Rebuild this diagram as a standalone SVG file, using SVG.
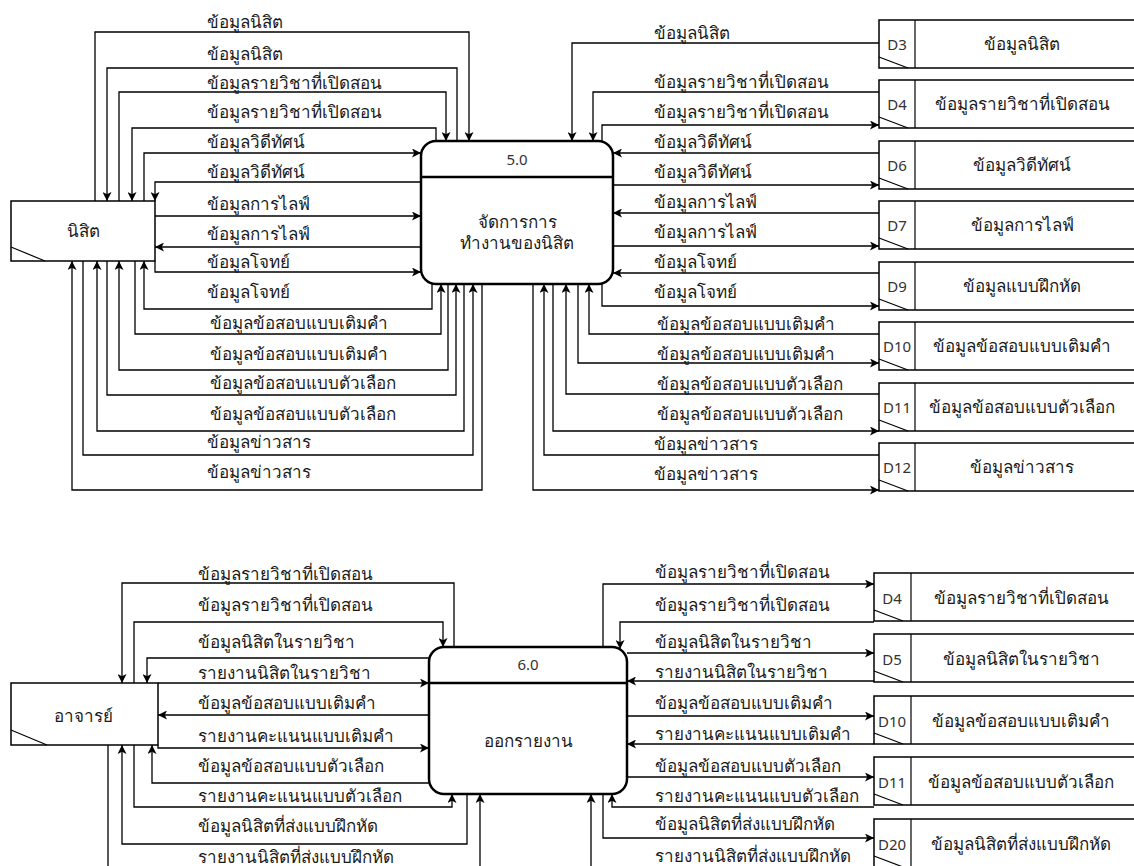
<svg xmlns="http://www.w3.org/2000/svg" width="1134" height="866" viewBox="0 0 1134 866">
<defs>
<marker id="a" viewBox="0 0 10 10" refX="10" refY="5" markerWidth="9" markerHeight="9" markerUnits="userSpaceOnUse" orient="auto"><path d="M0,0 L10,5 L0,10 L2.5,5 z" fill="#000"/></marker>
<style>
.c{fill:none;stroke:#000;stroke-width:1.3;marker-end:url(#a)}
.t{font-family:"Noto Sans","DejaVu Sans",sans-serif;font-size:17px;fill:#1a1a1a}
.l{font-family:"Noto Sans","DejaVu Sans",sans-serif;font-size:15px;fill:#333}
.m{text-anchor:middle}
.p{fill:#fff;stroke:#000;stroke-width:2.5}
.b{fill:#fff;stroke:#000;stroke-width:1.5}
.s{fill:none;stroke:#000;stroke-width:1.2}
</style>
</defs>
<rect width="1134" height="866" fill="#fff"/>

<g id="connectors">
<path class="c" d="M95,201 V32 H469 V141"/>
<path class="c" d="M457,141 V68 H107 V201"/>
<path class="c" d="M119,201 V92 H446 V141"/>
<path class="c" d="M436,141 V128 H132 V201"/>
<path class="c" d="M144,201 V153 H421"/>
<path class="c" d="M421,182 H155 V201"/>
<path class="c" d="M155,216 H421"/>
<path class="c" d="M421,247 H155"/>
<path class="c" d="M155,261 V272 H421"/>
<path class="c" d="M432,284 V309 H144 V261"/>
<path class="c" d="M135,261 V334 H441 V284"/>
<path class="c" d="M448,284 V370 H119 V261"/>
<path class="c" d="M107,261 V395 H456 V284"/>
<path class="c" d="M464,284 V431 H97 V261"/>
<path class="c" d="M83,261 V455 H473 V284"/>
<path class="c" d="M482,284 V490 H72 V261"/>

<path class="c" d="M879,43 H572 V141"/>
<path class="c" d="M879,92 H593 V141"/>
<path class="c" d="M602,141 V125 H879"/>
<path class="c" d="M879,153 H613"/>
<path class="c" d="M613,185 H879"/>
<path class="c" d="M879,213 H613"/>
<path class="c" d="M613,246 H879"/>
<path class="c" d="M879,273 H613"/>
<path class="c" d="M602,284 V306 H879"/>
<path class="c" d="M879,334 H589 V284"/>
<path class="c" d="M578,284 V363 H879"/>
<path class="c" d="M879,394 H566 V284"/>
<path class="c" d="M553,284 V431 H879"/>
<path class="c" d="M879,455 H544 V284"/>
<path class="c" d="M533,284 V490 H879"/>

<path class="c" d="M454,647 V583 H122 V683"/>
<path class="c" d="M134,683 V622 H443 V647"/>
<path class="c" d="M429,658 H147 V683"/>
<path class="c" d="M158,683 H429"/>
<path class="c" d="M429,715 H158"/>
<path class="c" d="M158,745 V748 H429"/>
<path class="c" d="M430,783 H152 V745"/>
<path class="c" d="M134,745 V807 H452 V794"/>
<path class="c" d="M467,794 V844 H122 V745"/>
<path class="c" d="M108,745 V880 H480 V794"/>

<path class="c" d="M603,647 V584 H874"/>
<path class="c" d="M874,622 H620 V649"/>
<path class="c" d="M627,653 H874"/>
<path class="c" d="M874,681 H627"/>
<path class="c" d="M627,716 H874"/>
<path class="c" d="M874,744 H627"/>
<path class="c" d="M627,777 H874"/>
<path class="c" d="M874,807 H612 V794"/>
<path class="c" d="M603,794 V838 H874"/>
<path class="c" d="M874,880 H591 V794"/>
</g>

<g id="labels">
<text class="t" x="207" y="28">ข้อมูลนิสิต</text>
<text class="t" x="207" y="60">ข้อมูลนิสิต</text>
<text class="t" x="207" y="89">ข้อมูลรายวิชาที่เปิดสอน</text>
<text class="t" x="207" y="118">ข้อมูลรายวิชาที่เปิดสอน</text>
<text class="t" x="207" y="148">ข้อมูลวิดีทัศน์</text>
<text class="t" x="207" y="178">ข้อมูลวิดีทัศน์</text>
<text class="t" x="207" y="210">ข้อมูลการไลฟ์</text>
<text class="t" x="207" y="240">ข้อมูลการไลฟ์</text>
<text class="t" x="207" y="268">ข้อมูลโจทย์</text>
<text class="t" x="207" y="298">ข้อมูลโจทย์</text>
<text class="t" x="210" y="329">ข้อมูลข้อสอบแบบเติมคำ</text>
<text class="t" x="210" y="360">ข้อมูลข้อสอบแบบเติมคำ</text>
<text class="t" x="210" y="389">ข้อมูลข้อสอบแบบตัวเลือก</text>
<text class="t" x="210" y="420">ข้อมูลข้อสอบแบบตัวเลือก</text>
<text class="t" x="207" y="448">ข้อมูลข่าวสาร</text>
<text class="t" x="207" y="478">ข้อมูลข่าวสาร</text>

<text class="t" x="654" y="39">ข้อมูลนิสิต</text>
<text class="t" x="654" y="88">ข้อมูลรายวิชาที่เปิดสอน</text>
<text class="t" x="654" y="118">ข้อมูลรายวิชาที่เปิดสอน</text>
<text class="t" x="654" y="148">ข้อมูลวิดีทัศน์</text>
<text class="t" x="654" y="178">ข้อมูลวิดีทัศน์</text>
<text class="t" x="654" y="208">ข้อมูลการไลฟ์</text>
<text class="t" x="654" y="238">ข้อมูลการไลฟ์</text>
<text class="t" x="654" y="268">ข้อมูลโจทย์</text>
<text class="t" x="654" y="298">ข้อมูลโจทย์</text>
<text class="t" x="657" y="330">ข้อมูลข้อสอบแบบเติมคำ</text>
<text class="t" x="657" y="360">ข้อมูลข้อสอบแบบเติมคำ</text>
<text class="t" x="657" y="390">ข้อมูลข้อสอบแบบตัวเลือก</text>
<text class="t" x="657" y="420">ข้อมูลข้อสอบแบบตัวเลือก</text>
<text class="t" x="654" y="450">ข้อมูลข่าวสาร</text>
<text class="t" x="654" y="480">ข้อมูลข่าวสาร</text>

<text class="t" x="198" y="580">ข้อมูลรายวิชาที่เปิดสอน</text>
<text class="t" x="198" y="611">ข้อมูลรายวิชาที่เปิดสอน</text>
<text class="t" x="198" y="648">ข้อมูลนิสิตในรายวิชา</text>
<text class="t" x="198" y="679">รายงานนิสิตในรายวิชา</text>
<text class="t" x="198" y="709">ข้อมูลข้อสอบแบบเติมคำ</text>
<text class="t" x="198" y="742">รายงานคะแนนแบบเติมคำ</text>
<text class="t" x="198" y="772">ข้อมูลข้อสอบแบบตัวเลือก</text>
<text class="t" x="198" y="802">รายงานคะแนนแบบตัวเลือก</text>
<text class="t" x="198" y="832">ข้อมูลนิสิตที่ส่งแบบฝึกหัด</text>
<text class="t" x="198" y="863">รายงานนิสิตที่ส่งแบบฝึกหัด</text>

<text class="t" x="655" y="578">ข้อมูลรายวิชาที่เปิดสอน</text>
<text class="t" x="655" y="611">ข้อมูลรายวิชาที่เปิดสอน</text>
<text class="t" x="655" y="648">ข้อมูลนิสิตในรายวิชา</text>
<text class="t" x="655" y="678">รายงานนิสิตในรายวิชา</text>
<text class="t" x="655" y="709">ข้อมูลข้อสอบแบบเติมคำ</text>
<text class="t" x="655" y="740">รายงานคะแนนแบบเติมคำ</text>
<text class="t" x="655" y="772">ข้อมูลข้อสอบแบบตัวเลือก</text>
<text class="t" x="655" y="802">รายงานคะแนนแบบตัวเลือก</text>
<text class="t" x="655" y="830">ข้อมูลนิสิตที่ส่งแบบฝึกหัด</text>
<text class="t" x="655" y="862">รายงานนิสิตที่ส่งแบบฝึกหัด</text>
</g>

<g id="entity-student">
<rect class="b" x="11" y="201" width="144" height="60"/>
<line class="s" x1="11" y1="247" x2="45" y2="261"/>
<text class="t m" x="83" y="237">นิสิต</text>
</g>

<g id="process-5">
<rect class="p" x="421" y="141" width="192" height="143" rx="15"/>
<line class="p" x1="421" y1="177" x2="613" y2="177"/>
<text class="l m" x="517" y="165">5.0</text>
<text class="t m" x="517" y="228">จัดการการ</text>
<text class="t m" x="517" y="249">ทำงานของนิสิต</text>
</g>

<g id="store-d3"><rect class="b" x="879" y="20" width="265" height="48"/><line class="s" x1="915" y1="20" x2="915" y2="68"/><line class="s" x1="879" y1="57" x2="908" y2="68"/><text class="l m" x="897" y="50">D3</text><text class="t m" x="1022" y="50">ข้อมูลนิสิต</text></g>
<g id="store-d4"><rect class="b" x="879" y="80" width="265" height="48"/><line class="s" x1="915" y1="80" x2="915" y2="128"/><line class="s" x1="879" y1="117" x2="908" y2="128"/><text class="l m" x="897" y="110">D4</text><text class="t m" x="1022" y="110">ข้อมูลรายวิชาที่เปิดสอน</text></g>
<g id="store-d6"><rect class="b" x="879" y="141" width="265" height="48"/><line class="s" x1="915" y1="141" x2="915" y2="189"/><line class="s" x1="879" y1="178" x2="908" y2="189"/><text class="l m" x="897" y="171">D6</text><text class="t m" x="1022" y="171">ข้อมูลวิดีทัศน์</text></g>
<g id="store-d7"><rect class="b" x="879" y="201" width="265" height="48"/><line class="s" x1="915" y1="201" x2="915" y2="249"/><line class="s" x1="879" y1="238" x2="908" y2="249"/><text class="l m" x="897" y="231">D7</text><text class="t m" x="1022" y="231">ข้อมูลการไลฟ์</text></g>
<g id="store-d9"><rect class="b" x="879" y="262" width="265" height="48"/><line class="s" x1="915" y1="262" x2="915" y2="310"/><line class="s" x1="879" y1="299" x2="908" y2="310"/><text class="l m" x="897" y="292">D9</text><text class="t m" x="1022" y="292">ข้อมูลแบบฝึกหัด</text></g>
<g id="store-d10"><rect class="b" x="879" y="322" width="265" height="48"/><line class="s" x1="915" y1="322" x2="915" y2="370"/><line class="s" x1="879" y1="359" x2="908" y2="370"/><text class="l m" x="897" y="352">D10</text><text class="t m" x="1022" y="352">ข้อมูลข้อสอบแบบเติมคำ</text></g>
<g id="store-d11"><rect class="b" x="879" y="383" width="265" height="48"/><line class="s" x1="915" y1="383" x2="915" y2="431"/><line class="s" x1="879" y1="420" x2="908" y2="431"/><text class="l m" x="897" y="413">D11</text><text class="t m" x="1022" y="413">ข้อมูลข้อสอบแบบตัวเลือก</text></g>
<g id="store-d12"><rect class="b" x="879" y="443" width="265" height="48"/><line class="s" x1="915" y1="443" x2="915" y2="491"/><line class="s" x1="879" y1="480" x2="908" y2="491"/><text class="l m" x="897" y="473">D12</text><text class="t m" x="1022" y="473">ข้อมูลข่าวสาร</text></g>

<g id="entity-teacher">
<rect class="b" x="11" y="683" width="147" height="62"/>
<line class="s" x1="11" y1="730" x2="47" y2="745"/>
<text class="t m" x="83" y="722">อาจารย์</text>
</g>

<g id="process-6">
<rect class="p" x="429" y="647" width="198" height="147" rx="15"/>
<line class="p" x1="429" y1="683" x2="627" y2="683"/>
<text class="l m" x="528" y="670">6.0</text>
<text class="t m" x="528" y="747">ออกรายงาน</text>
</g>

<g id="store-b-d4"><rect class="b" x="874" y="573" width="270" height="48"/><line class="s" x1="911" y1="573" x2="911" y2="621"/><line class="s" x1="874" y1="610" x2="903" y2="621"/><text class="l m" x="892" y="604">D4</text><text class="t m" x="1021" y="604">ข้อมูลรายวิชาที่เปิดสอน</text></g>
<g id="store-b-d5"><rect class="b" x="874" y="634" width="270" height="48"/><line class="s" x1="911" y1="634" x2="911" y2="682"/><line class="s" x1="874" y1="671" x2="903" y2="682"/><text class="l m" x="892" y="665">D5</text><text class="t m" x="1021" y="665">ข้อมูลนิสิตในรายวิชา</text></g>
<g id="store-b-d10"><rect class="b" x="874" y="696" width="270" height="48"/><line class="s" x1="911" y1="696" x2="911" y2="744"/><line class="s" x1="874" y1="733" x2="903" y2="744"/><text class="l m" x="892" y="727">D10</text><text class="t m" x="1021" y="727">ข้อมูลข้อสอบแบบเติมคำ</text></g>
<g id="store-b-d11"><rect class="b" x="874" y="757" width="270" height="48"/><line class="s" x1="911" y1="757" x2="911" y2="805"/><line class="s" x1="874" y1="794" x2="903" y2="805"/><text class="l m" x="892" y="788">D11</text><text class="t m" x="1021" y="788">ข้อมูลข้อสอบแบบตัวเลือก</text></g>
<g id="store-b-d20"><rect class="b" x="874" y="819" width="270" height="48"/><line class="s" x1="911" y1="819" x2="911" y2="867"/><line class="s" x1="874" y1="856" x2="903" y2="867"/><text class="l m" x="892" y="850">D20</text><text class="t m" x="1021" y="850">ข้อมูลนิสิตที่ส่งแบบฝึกหัด</text></g>
</svg>
